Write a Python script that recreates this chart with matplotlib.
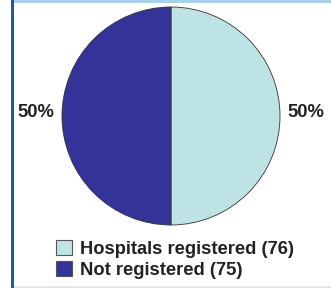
import matplotlib
matplotlib.use("Agg")
import matplotlib.pyplot as plt
from matplotlib.patches import Rectangle, Patch
from matplotlib.font_manager import FontProperties

labels = ["Hospitals registered (76)", "Not registered (75)"]
counts = [76, 75]
shares = [50, 50]  # percentages as shown on the chart
colors = ["#BDE3E5", "#333399"]

W, H = 331, 288
fig = plt.figure(figsize=(W / 100, H / 100), dpi=100)
font = FontProperties(family='Liberation Sans', weight='bold', size=13.2)

# frame decorations
fig.add_artist(Rectangle((11 / W, 0), 3 / W, 1, transform=fig.transFigure,
                         color="#1D5C9E", lw=0))
fig.add_artist(Rectangle((14 / W, 1 - 3 / H), 1, 3 / H, transform=fig.transFigure,
                         color="#A9D0F0", lw=0))
fig.add_artist(Rectangle((14 / W, 0), 1, 2 / H, transform=fig.transFigure,
                         color="#E6E6E6", lw=0))

# pie: centre (171, 116) px, radius 109 px
r = 109
cx, cy = 171, 116
ax = fig.add_axes([(cx - r) / W, (H - cy - r) / H, 2 * r / W, 2 * r / H])
wedges, texts, autotexts = ax.pie(shares, colors=colors, startangle=90, counterclock=False,
                                  autopct='%.0f%%', pctdistance=1.24,
                                  wedgeprops=dict(edgecolor="#333333", linewidth=0.6))
for t in autotexts:
    t.set_fontproperties(font)
    t.set_color('#222222')
    t.set_clip_on(False)
    x, y = t.get_position()
    t.set_position((x, y + 0.03))
ax.set_xlim(-1, 1)
ax.set_ylim(-1, 1)
ax.axis('off')

handles = [Patch(facecolor=c, edgecolor="#555555", linewidth=0.8) for c in colors]
leg = fig.legend(handles, labels, loc='upper left', bbox_to_anchor=(56 / W, 1 - 240 / H),
                 frameon=False, prop=font,
                 handlelength=0.85, handleheight=0.85, handletextpad=0.45,
                 labelspacing=0.2, borderpad=0, borderaxespad=0)
for t in leg.get_texts():
    t.set_color('#222222')

fig.savefig("out.png", dpi=100)
